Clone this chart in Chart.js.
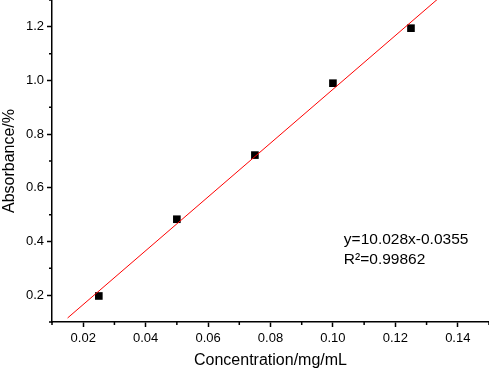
<!DOCTYPE html>
<html>
<head>
<meta charset="utf-8">
<script src="https://cdn.jsdelivr.net/npm/chart.js@4/dist/chart.umd.min.js"></script>
<style>
  html, body { margin: 0; padding: 0; background: #fff; }
  #wrap { width: 489px; height: 371px; position: relative; }
</style>
</head>
<body>
<div id="wrap"><canvas id="c"></canvas></div>
<script>
// ---- data ----
const concentrations = [0.025, 0.05, 0.075, 0.10, 0.125];
const absorbances    = [0.197, 0.483, 0.722, 0.990, 1.195];
const fitX = [0.015, 0.135];
const fitY = [0.115, 1.318];
const xMajorTicks = [0.02, 0.04, 0.06, 0.08, 0.10, 0.12, 0.14];
const xMinorTicks = [0.01, 0.03, 0.05, 0.07, 0.09, 0.11, 0.13, 0.15];
const yMajorTicks = [0.2, 0.4, 0.6, 0.8, 1.0, 1.2];
const yMinorTicks = [0.1, 0.3, 0.5, 0.7, 0.9, 1.1, 1.3];
const equationLines = ['y=10.028x-0.0355', 'R\u00B2=0.99862'];

const FONT = "'Liberation Sans', Arial, sans-serif";

const minorTicksPlugin = {
  id: 'minorTicks',
  afterDraw(chart) {
    const ctx = chart.ctx;
    const xs = chart.scales.x, ys = chart.scales.y;
    const area = chart.chartArea;
    ctx.save();
    ctx.strokeStyle = '#000';
    ctx.lineWidth = 1.5;
    ctx.beginPath();
    xMinorTicks.forEach(v => {
      const px = xs.getPixelForValue(v);
      ctx.moveTo(px, area.bottom);
      ctx.lineTo(px, area.bottom + 3);
    });
    yMinorTicks.forEach(v => {
      const py = ys.getPixelForValue(v);
      ctx.moveTo(area.left, py);
      ctx.lineTo(area.left - 3, py);
    });
    ctx.stroke();
    ctx.restore();
  }
};

const equationPlugin = {
  id: 'equation',
  afterDraw(chart) {
    const ctx = chart.ctx;
    const xs = chart.scales.x, ys = chart.scales.y;
    const x0 = xs.getPixelForValue(0.1035);
    const y0 = ys.getPixelForValue(0.3905);
    ctx.save();
    ctx.fillStyle = '#000';
    ctx.font = '15.5px ' + FONT;
    ctx.textBaseline = 'alphabetic';
    ctx.textAlign = 'left';
    equationLines.forEach((t, i) => ctx.fillText(t, x0, y0 + i * 20));
    ctx.restore();
  }
};

new Chart(document.getElementById('c'), {
  type: 'scatter',
  data: {
    datasets: [
      {
        type: 'line',
        label: 'fit',
        data: fitX.map((x, i) => ({ x, y: fitY[i] })),
        borderColor: '#ff0000',
        borderWidth: 1,
        pointRadius: 0,
        fill: false,
        tension: 0
      },
      {
        label: 'data',
        data: concentrations.map((x, i) => ({ x, y: absorbances[i] })),
        pointStyle: 'rect',
        pointRadius: 5.4,
        pointBorderWidth: 0,
        backgroundColor: '#000',
        borderColor: '#000'
      }
    ]
  },
  options: {
    responsive: true,
    maintainAspectRatio: false,
    animation: false,
    layout: { padding: 0, autoPadding: false },
    plugins: {
      legend: { display: false },
      tooltip: { enabled: false }
    },
    scales: {
      x: {
        type: 'linear',
        min: 0.01,
        max: 0.15,
        afterBuildTicks: s => { s.ticks = xMajorTicks.map(v => ({ value: v })); },
        afterFit: s => { s.height = 49; s.paddingLeft = 0; s.paddingRight = 0; },
        ticks: {
          color: '#000',
          font: { family: FONT, size: 13 },
          padding: 4,
          maxRotation: 0,
          callback: v => Number(v).toFixed(2)
        },
        grid: {
          drawOnChartArea: false,
          drawTicks: true,
          tickLength: 5,
          tickColor: '#000',
          tickWidth: 1.5
        },
        border: { display: true, color: '#000', width: 1.5 },
        title: {
          display: true,
          text: 'Concentration/mg/mL',
          color: '#000',
          font: { family: FONT, size: 16 },
          padding: { top: 0, bottom: 1 }
        }
      },
      y: {
        type: 'linear',
        min: 0.1,
        max: 1.3,
        afterBuildTicks: s => { s.ticks = yMajorTicks.map(v => ({ value: v })); },
        afterFit: s => { s.width = 52; s.paddingTop = 0; s.paddingBottom = 0; },
        ticks: {
          color: '#000',
          font: { family: FONT, size: 13 },
          padding: 3,
          callback: v => Number(v).toFixed(1)
        },
        grid: {
          drawOnChartArea: false,
          drawTicks: true,
          tickLength: 5,
          tickColor: '#000',
          tickWidth: 1.5
        },
        border: { display: true, color: '#000', width: 1.5 },
        title: {
          display: true,
          text: 'Absorbance/%',
          color: '#000',
          font: { family: FONT, size: 16 },
          padding: { top: 0, bottom: 0 }
        }
      }
    }
  },
  plugins: [minorTicksPlugin, equationPlugin]
});
</script>
</body>
</html>
